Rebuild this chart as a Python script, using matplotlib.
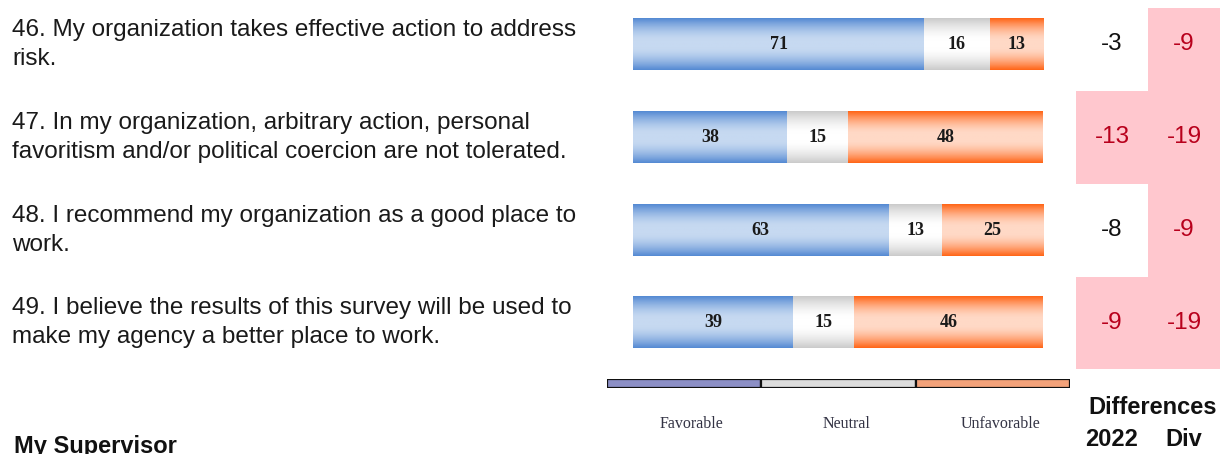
#!/usr/bin/env python3
"""Survey results: stacked favorable / neutral / unfavorable bars with difference table"""

import numpy as np
import matplotlib
matplotlib.use('Agg')
import matplotlib.pyplot as plt
from matplotlib.colors import to_rgb
from matplotlib.transforms import blended_transform_factory

# data
questions = [
    "46. My organization takes effective action to address\nrisk.",
    "47. In my organization, arbitrary action, personal\nfavoritism and/or political coercion are not tolerated.",
    "48. I recommend my organization as a good place to\nwork.",
    "49. I believe the results of this survey will be used to\nmake my agency a better place to work.",
]
favorable = [71, 38, 63, 39]
neutral = [16, 15, 13, 15]
unfavorable = [13, 48, 25, 46]
diff_2022 = [-3, -13, -8, -9]
diff_div = [-9, -19, -9, -19]
legend_labels = ['Favorable', 'Neutral', 'Unfavorable']
diff_cols = ['2022', 'Div']

W, H = 1220, 454
fig = plt.figure(figsize=(W / 100, H / 100), dpi=100)


def px_axes(x0, y0, x1, y1):
    """axes from pixel box (top-left origin)"""
    return fig.add_axes([x0 / W, 1 - y1 / H, (x1 - x0) / W, (y1 - y0) / H])


def gradient(edge, centre, n=64):
    """vertical gradient: dark at top and bottom, light in the middle"""
    t = np.abs(np.linspace(-1, 1, n))
    m = np.clip((t - 0.15) / 0.85, 0, 1) ** 1.6
    e = np.array(to_rgb(edge))
    c = np.array(to_rgb(centre))
    return (c[None, :] * (1 - m[:, None]) + e[None, :] * m[:, None])[:, None, :]


grads = [gradient('#558ad3', '#c6d9f1'),
         gradient('#cbcbcb', '#ffffff'),
         gradient('#ff6618', '#ffd9c6')]

pitch = 92.8
top = 44.5 - pitch / 2
ax = px_axes(633, top, 1043, top + 4 * pitch)
ax.axis('off')

bar_h = 0.55
for i in range(len(questions)):
    vals = [favorable[i], neutral[i], unfavorable[i]]
    tot = float(sum(vals))
    left = 0.0
    for j, v in enumerate(vals):
        w = v / tot
        ax.imshow(grads[j], extent=(left, left + w, i + bar_h / 2, i - bar_h / 2),
                  aspect='auto', interpolation='bilinear', zorder=2)
        ax.text(left + w / 2, i, str(v), ha='center', va='center',
                fontsize=13, fontweight='bold', family='Liberation Serif',
                color='#1a1a1a', zorder=3)
        left += w
ax.set_xlim(0, 1)
ax.set_ylim(3.5, -0.5)

# question texts
tr = blended_transform_factory(fig.transFigure, ax.transData)
for i, q in enumerate(questions):
    ax.text(12 / W, i, q, transform=tr, ha='left', va='center',
            fontsize=17.5, family='Liberation Sans', color='#1a1a1a',
            linespacing=1.42)

# differences table
tax = px_axes(1076, 8, 1220, top + 4 * pitch)
tax.set_xlim(0, 2)
tax.set_ylim(3.5, -0.5 + (8 - top) / pitch)
tax.axis('off')
for i in range(len(questions)):
    for j, v in enumerate([diff_2022[i], diff_div[i]]):
        hot = v <= -9
        if hot:
            tax.bar(j + 0.5, 1, bottom=i - 0.5, width=1.0, color='#ffc7ce',
                    linewidth=0, zorder=1)
        tax.text(j + 0.5, i, str(v), ha='center', va='center', fontsize=17.5,
                 family='Liberation Sans', color='#b8001c' if hot else '#111111',
                 zorder=2)

# legend strip
lax = px_axes(607, 379, 1070, 388)
lax.set_xlim(0, 3)
lax.set_ylim(0, 1)
lax.axis('off')
lcols = ['#8c8fc6', '#dcdcdc', '#f3a27a']
lax.bar(np.arange(3) + 0.5, 1, width=1.0, color=lcols, edgecolor='#111111',
        linewidth=1.6)
ltr = blended_transform_factory(lax.transData, fig.transFigure)
for k, lab in enumerate(legend_labels):
    lax.text(k + 0.55, 1 - 424 / H, lab, transform=ltr, ha='center', va='center',
             fontsize=11.5, family='Liberation Serif', color='#333344')

# headers
fig.text(1153 / W, 1 - 408 / H, 'Differences', ha='center', va='center',
         fontsize=17, fontweight='bold', family='Liberation Sans', color='#111111')
ttr = blended_transform_factory(tax.transData, fig.transFigure)
for j, c in enumerate(diff_cols):
    tax.text(j + 0.5, 1 - 440 / H, c, transform=ttr, ha='center', va='center',
             fontsize=17, fontweight='bold', family='Liberation Sans', color='#111111')

fig.text(14 / W, 1 - 435 / H, 'My Supervisor', ha='left', va='top',
         fontsize=17, fontweight='bold', family='Liberation Sans', color='#111111')

fig.savefig('out.png', dpi=100)
